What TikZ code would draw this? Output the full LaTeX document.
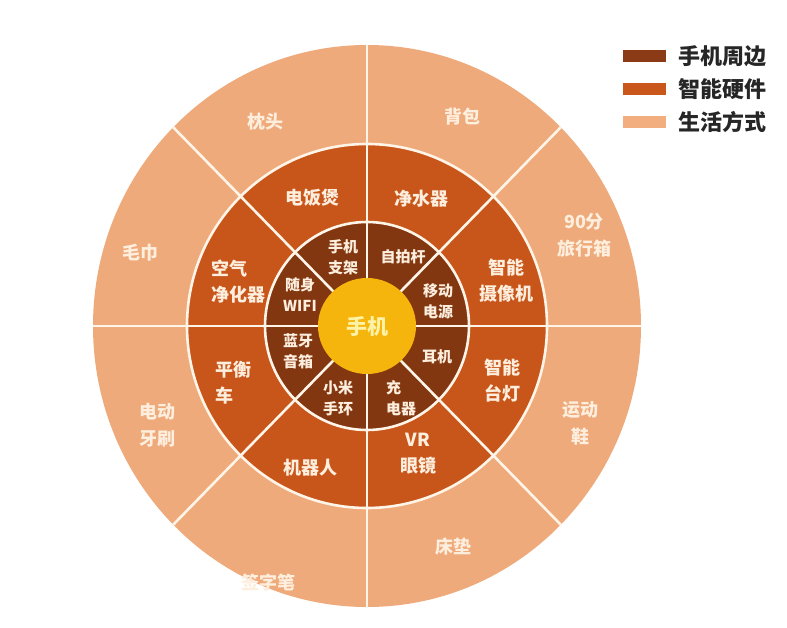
\documentclass[tikz,border=0pt]{standalone}
\usepackage{fontspec}
\setmainfont{Noto Sans CJK SC}
\definecolor{outerc}{HTML}{EFAA7B}
\definecolor{midc}{HTML}{C8561B}
\definecolor{innerc}{HTML}{833711}
\definecolor{centerc}{HTML}{F6B50C}
\definecolor{labc}{HTML}{FDEEDD}
\definecolor{sepc}{HTML}{FFF4E8}
\definecolor{legA}{HTML}{8B3A16}
\definecolor{legB}{HTML}{C9561B}
\definecolor{legC}{HTML}{F3AE80}
\begin{document}
\begin{tikzpicture}[x=1pt,y=-1pt,
  lbl/.style={text=labc,inner sep=0pt,align=center},
  inlbl/.style={lbl,font=\fontsize{15}{21}\selectfont\bfseries},
  midlbl/.style={lbl,font=\fontsize{18}{26}\selectfont\bfseries},
  outlbl/.style={lbl,font=\fontsize{18}{27}\selectfont\bfseries},
  legtxt/.style={text=black!85,inner sep=0pt,anchor=west,font=\fontsize{22}{26}\selectfont\bfseries},
  sep/.style={draw=sepc,line width=2.6pt}]
\useasboundingbox (0,0) rectangle (787,628);
\fill[white] (0,0) rectangle (787,628);
\begin{scope}[shift={(367,326)}]
  \fill[outerc] (0,0) ellipse[x radius=274,y radius=281];
  \fill[midc] (0,0) ellipse[x radius=180,y radius=182];
  \fill[innerc] (0,0) ellipse[x radius=102,y radius=104];
  \draw[sep] (0,0) ellipse[x radius=180,y radius=182];
  \draw[sep] (0,0) ellipse[x radius=102,y radius=104];
  \foreach \a in {0,45,...,315}
    \draw[sep] (0,0) -- ({274*cos(\a)},{281*sin(\a)});
  \fill[centerc] (0,0) ellipse[x radius=49,y radius=48];
\end{scope}
% center
\node[lbl,text=labc!75!yellow,font=\fontsize{21}{24}\selectfont\bfseries] (c) at (367,326) {手机};
% inner ring
\node[inlbl] (i1) at (343,257) {手机\\支架};
\node[inlbl] (i2) at (403,257) {自拍杆};
\node[inlbl] (i3) at (438,301) {移动\\电源};
\node[inlbl] (i4) at (437,357) {耳机};
\node[inlbl,align=left] (i5) at (401,398) {充\\电器};
\node[inlbl] (i6) at (338,398) {小米\\手环};
\node[inlbl] (i7) at (298,351) {蓝牙\\音箱};
\node[inlbl] (i8) at (300,295) {随身\\WIFI};
% middle ring
\node[midlbl] (m1) at (312,198) {电饭煲};
\node[midlbl] (m2) at (421,199) {净水器};
\node[midlbl] (m3) at (506,281) {智能\\摄像机};
\node[midlbl] (m4) at (502,381) {智能\\台灯};
\node[midlbl] (m5) at (418,454) {VR\\眼镜};
\node[midlbl] (m6) at (310,468) {机器人};
\node[midlbl,align=left] (m7) at (233,383) {平衡\\车};
\node[midlbl,align=left] (m8) at (238,282) {空气\\净化器};
% outer ring
\node[outlbl] (o1) at (265,122) {枕头};
\node[outlbl] (o2) at (462,117) {背包};
\node[outlbl] (o3) at (584,235) {90分\\旅行箱};
\node[outlbl] (o4) at (580,423) {运动\\鞋};
\node[outlbl] (o5) at (453,547) {床垫};
\node[outlbl] (o6) at (268,583) {签字笔};
\node[outlbl] (o7) at (157,425) {电动\\牙刷};
\node[outlbl] (o8) at (140,253) {毛巾};
% legend
\fill[legA] (623,50) rectangle (666,62);
\fill[legB] (623,83) rectangle (666,95);
\fill[legC] (623,116) rectangle (666,128);
\node[legtxt] (l1) at (678,56) {手机周边};
\node[legtxt] (l2) at (678,89) {智能硬件};
\node[legtxt] (l3) at (678,122) {生活方式};
\end{tikzpicture}
\end{document}
